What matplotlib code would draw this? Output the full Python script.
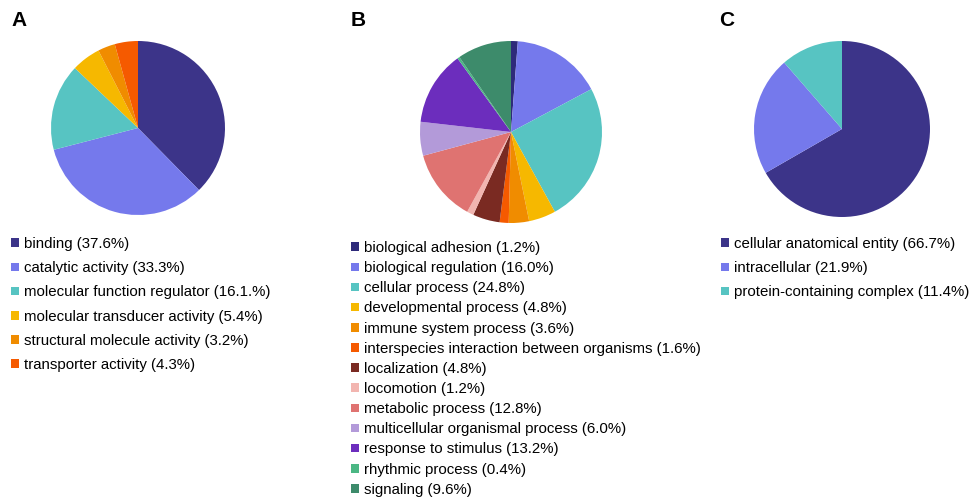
import matplotlib.pyplot as plt

plt.rcParams['font.family'] = ['Liberation Sans', 'DejaVu Sans']

# panel A - molecular function
labels_a = ["binding (37.6%)", "catalytic activity (33.3%)",
            "molecular function regulator (16.1.%)", "molecular transducer activity (5.4%)",
            "structural molecule activity (3.2%)", "transporter activity (4.3%)"]
values_a = [37.6, 33.3, 16.1, 5.4, 3.2, 4.3]
colors_a = ["#3c3489", "#7579ec", "#57c4c2", "#f6b800", "#f08c00", "#f55a00"]

# panel B - biological process
labels_b = ["biological adhesion (1.2%)", "biological regulation (16.0%)",
            "cellular process (24.8%)", "developmental process (4.8%)",
            "immune system process (3.6%)", "interspecies interaction between organisms (1.6%)",
            "localization (4.8%)", "locomotion (1.2%)", "metabolic process (12.8%)",
            "multicellular organismal process (6.0%)", "response to stimulus (13.2%)",
            "rhythmic process (0.4%)", "signaling (9.6%)"]
values_b = [1.2, 16.0, 24.8, 4.8, 3.6, 1.6, 4.8, 1.2, 12.8, 6.0, 13.2, 0.4, 9.6]
colors_b = ["#2e2a7a", "#7579ec", "#57c4c2", "#f6b800", "#f08c00", "#f55a00",
            "#7a2a22", "#f2b5b0", "#df7371", "#b39ad9", "#6c2dbd", "#4bb784", "#3d8b6b"]

# panel C - cellular component
labels_c = ["cellular anatomical entity (66.7%)", "intracellular (21.9%)",
            "protein-containing complex (11.4%)"]
values_c = [66.7, 21.9, 11.4]
colors_c = ["#3c3489", "#7579ec", "#57c4c2"]

W, H = 977, 497
fig = plt.figure(figsize=(W / 100, H / 100), dpi=100)


def panel(vals, cols, labs, cx, cy, r, letter, lx, ly, legx, legy, spacing):
    ax = fig.add_axes([(cx - r) / W, (H - cy - r) / H, 2 * r / W, 2 * r / H])
    wedges, _ = ax.pie(vals, colors=cols, startangle=90, counterclock=False,
                       wedgeprops=dict(linewidth=0))
    ax.set_xlim(-1, 1)
    ax.set_ylim(-1, 1)
    ax.set_aspect('equal')
    fig.text(lx / W, 1 - ly / H, letter, fontsize=15, fontweight='bold',
             va='center', ha='left')
    ax.legend(wedges, labs, loc='upper left', bbox_to_anchor=(legx / W, 1 - legy / H),
              bbox_transform=fig.transFigure, frameon=False, fontsize=10.8,
              handlelength=0.5, handleheight=0.5, handletextpad=0.35,
              labelspacing=spacing, borderpad=0, borderaxespad=0)


panel(values_a, colors_a, labels_a, 138, 128, 87, "A", 11, 20, 11, 237, 0.68)
panel(values_b, colors_b, labels_b, 511, 132, 91, "B", 351, 20, 351, 241, 0.41)
panel(values_c, colors_c, labels_c, 842, 129, 88, "C", 719, 20, 721, 237, 0.68)

fig.savefig("out.png", dpi=100)
